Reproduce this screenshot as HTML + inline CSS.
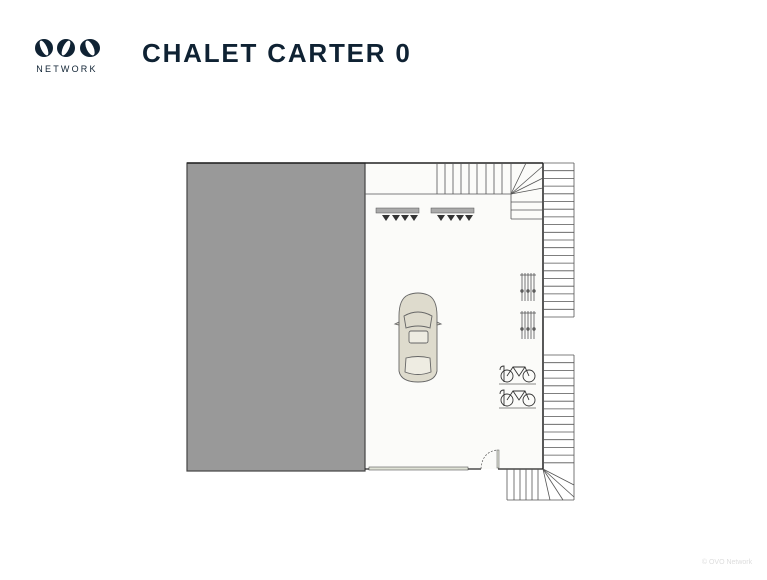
<!DOCTYPE html>
<html><head><meta charset="utf-8"><style>
body{margin:0;width:767px;height:575px;background:#fff;overflow:hidden;font-family:"Liberation Sans",sans-serif}
</style></head><body>
<svg width="767" height="575" viewBox="0 0 767 575" xmlns="http://www.w3.org/2000/svg">
<!-- logo -->
<g fill="#0f2233">
<ellipse cx="44" cy="48" rx="9" ry="9"/>
<ellipse cx="66" cy="48" rx="9" ry="9"/>
<ellipse cx="90" cy="48" rx="10" ry="9"/>
</g>
<g fill="#fff">
<ellipse cx="44" cy="48" rx="3" ry="8" transform="rotate(-25 44 48)"/>
<ellipse cx="66" cy="48" rx="3" ry="8" transform="rotate(25 66 48)"/>
<ellipse cx="90" cy="48" rx="3.5" ry="8" transform="rotate(-25 90 48)"/>
</g>
<text x="67" y="72" font-size="9" letter-spacing="2.2" fill="#0f2233" text-anchor="middle">NETWORK</text>
<text x="142" y="62" font-size="26" font-weight="bold" letter-spacing="1.8" fill="#0f2233">CHALET CARTER 0</text>
<text x="727" y="564" font-size="7" fill="#ddd" text-anchor="middle">© OVO Network</text>

<!-- floor -->
<rect x="365" y="163" width="178" height="306" fill="#fbfbf9"/>
<rect x="187" y="163" width="178" height="308" fill="#999" stroke="#444" stroke-width="1.2"/>
<line x1="187" y1="163" x2="543" y2="163" stroke="#222" stroke-width="1.5"/>
<line x1="543" y1="163" x2="543" y2="469" stroke="#222" stroke-width="1.5"/>
<!-- top stair -->
<g stroke="#555" stroke-width="0.8" fill="none">
<line x1="365" y1="194" x2="511" y2="194"/>
<line x1="437" y1="163" x2="437" y2="194"/>
<line x1="445" y1="163" x2="445" y2="194"/>
<line x1="453" y1="163" x2="453" y2="194"/>
<line x1="461" y1="163" x2="461" y2="194"/>
<line x1="469" y1="163" x2="469" y2="194"/>
<line x1="477" y1="163" x2="477" y2="194"/>
<line x1="486" y1="163" x2="486" y2="194"/>
<line x1="494" y1="163" x2="494" y2="194"/>
<line x1="502" y1="163" x2="502" y2="194"/>
<line x1="511" y1="163" x2="511" y2="219"/>
<line x1="511" y1="194" x2="526" y2="163"/>
<line x1="511" y1="194" x2="543" y2="166"/>
<line x1="511" y1="194" x2="543" y2="178"/>
<line x1="511" y1="194" x2="543" y2="188"/>
<line x1="511" y1="202" x2="543" y2="202"/>
<line x1="511" y1="210" x2="543" y2="210"/>
<line x1="511" y1="219" x2="543" y2="219"/>
</g>
<!-- right stair -->
<g stroke="#555" stroke-width="0.8">
<line x1="574" y1="163" x2="574" y2="317"/>
<line x1="574" y1="355" x2="574" y2="500"/>
</g>
<g id="rs" stroke="#555" stroke-width="0.8"></g>
<!-- bottom -->
<rect x="369" y="467" width="99" height="3" fill="#dfe2d6" stroke="#555" stroke-width="0.6"/>
<line x1="365" y1="469" x2="369" y2="469" stroke="#222" stroke-width="1.2"/>
<line x1="468" y1="469" x2="481" y2="469" stroke="#222" stroke-width="1.2"/>
<line x1="498" y1="469" x2="543" y2="469" stroke="#222" stroke-width="1.2"/>
<rect x="497" y="450" width="2" height="18" fill="#dfe2d6" stroke="#555" stroke-width="0.5"/>
<path d="M481 469 Q482 452 497 450" fill="none" stroke="#555" stroke-width="0.7" stroke-dasharray="2 1.5"/>
<g stroke="#555" stroke-width="0.8" fill="none">
<line x1="507" y1="469" x2="507" y2="500"/>
<line x1="507" y1="500" x2="574" y2="500"/>
<line x1="514" y1="469" x2="514" y2="500"/>
<line x1="520" y1="469" x2="520" y2="500"/>
<line x1="526" y1="469" x2="526" y2="500"/>
<line x1="532" y1="469" x2="532" y2="500"/>
<line x1="538" y1="469" x2="538" y2="500"/>
<line x1="543" y1="469" x2="550" y2="500"/>
<line x1="543" y1="469" x2="563" y2="500"/>
<line x1="543" y1="469" x2="574" y2="497"/>
<line x1="543" y1="469" x2="574" y2="485"/>
</g>
<!-- lights -->
<g>
<rect x="376" y="208" width="43" height="5" fill="#aaa" stroke="#555" stroke-width="0.5"/>
<rect x="431" y="208" width="43" height="5" fill="#aaa" stroke="#555" stroke-width="0.5"/>
<g fill="#333">
<path d="M382 215 l8 0 l-4 6z"/><path d="M392 215 l8 0 l-4 6z"/><path d="M401 215 l8 0 l-4 6z"/><path d="M410 215 l8 0 l-4 6z"/>
<path d="M437 215 l8 0 l-4 6z"/><path d="M447 215 l8 0 l-4 6z"/><path d="M456 215 l8 0 l-4 6z"/><path d="M465 215 l8 0 l-4 6z"/>
</g>
</g>
<!-- car -->
<g stroke="#666" stroke-width="0.9" fill="#dedbcd">
<path d="M408 295 Q418 291 428 295 Q437 299 437 316 L437 371 Q435 382 418 382 Q401 382 399 371 L399 316 Q399 299 408 295z"/>
<path d="M404 316 Q418 308 432 316 L430 328 Q418 324 406 328z" fill="none"/>
<rect x="409" y="331" width="19" height="12" rx="2" fill="#eeece2"/>
<path d="M406 358 Q418 355 430 358 L431 372 Q418 377 405 372z" fill="#eeece2"/>
<path d="M399 322 l-4 2 l4 1z"/><path d="M437 322 l4 2 l-4 1z"/>
</g>
<!-- bike racks vertical -->
<g stroke="#555" stroke-width="0.8" fill="#666">
<line x1="520" y1="275" x2="536" y2="275"/>
<line x1="522" y1="273" x2="522" y2="301"/><line x1="525" y1="273" x2="525" y2="301"/><line x1="528" y1="273" x2="528" y2="301"/><line x1="531" y1="273" x2="531" y2="301"/><line x1="534" y1="273" x2="534" y2="301"/>
<circle cx="522" cy="291" r="1.3"/><circle cx="528" cy="291" r="1.3"/><circle cx="534" cy="291" r="1.3"/>
<line x1="520" y1="313" x2="536" y2="313"/>
<line x1="522" y1="311" x2="522" y2="339"/><line x1="525" y1="311" x2="525" y2="339"/><line x1="528" y1="311" x2="528" y2="339"/><line x1="531" y1="311" x2="531" y2="339"/><line x1="534" y1="311" x2="534" y2="339"/>
<circle cx="522" cy="329" r="1.3"/><circle cx="528" cy="329" r="1.3"/><circle cx="534" cy="329" r="1.3"/>
</g>
<!-- bikes -->
<g stroke="#333" stroke-width="0.9" fill="none">
<circle cx="507" cy="376" r="6"/><circle cx="529" cy="376" r="6"/>
<path d="M507 376 l6 -9 l12 0 l4 9 M513 367 l6 9 l6 -9 M500 370 q0 -4 4 -4 v16"/>
<line x1="499" y1="384" x2="536" y2="384" stroke="#888"/>
<circle cx="507" cy="400" r="6"/><circle cx="529" cy="400" r="6"/>
<path d="M507 400 l6 -9 l12 0 l4 9 M513 391 l6 9 l6 -9 M500 394 q0 -4 4 -4 v16"/>
<line x1="499" y1="408" x2="536" y2="408" stroke="#888"/>
</g>
</svg>
<script>
var g=document.getElementById('rs'),s='';
function L(y){s+='<line x1="543" y1="'+y+'" x2="574" y2="'+y+'"/>';}
for(var y=163;y<=318;y+=7.7)L(y.toFixed(1));
for(var y=355;y<=470;y+=7.7)L(y.toFixed(1));
g.innerHTML=s;
</script>
</body></html>
